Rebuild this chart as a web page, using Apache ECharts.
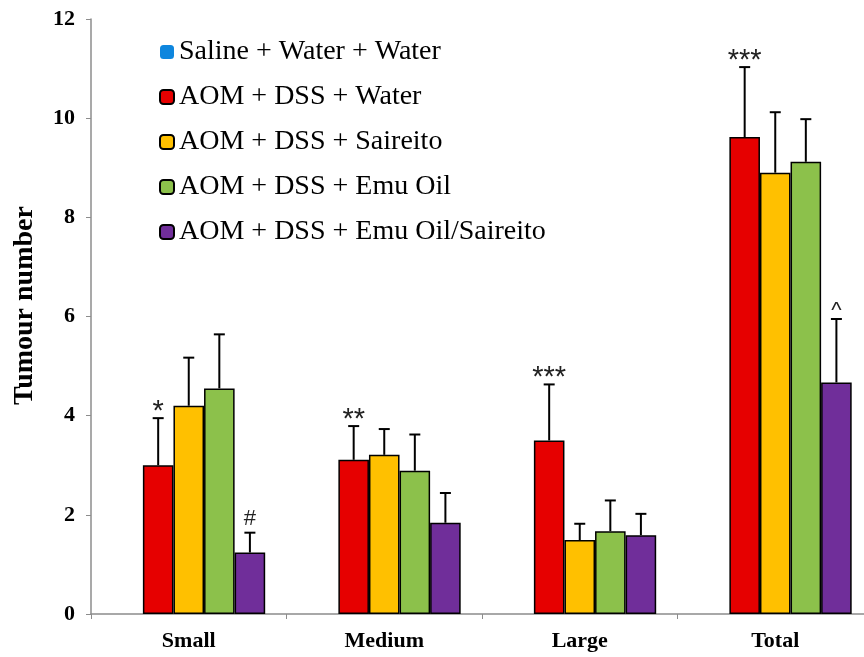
<!DOCTYPE html>
<html>
<head>
<meta charset="utf-8">
<script src="https://cdn.jsdelivr.net/npm/echarts@6/dist/echarts.min.js"></script>
<style>html,body{margin:0;padding:0;background:#fff}#c{width:864px;height:657px}</style>
</head>
<body>
<div id="c"></div>
<script>
var categories = ['Small', 'Medium', 'Large', 'Total'];
var seriesNames = ['Saline + Water + Water', 'AOM + DSS + Water', 'AOM + DSS + Saireito', 'AOM + DSS + Emu Oil', 'AOM + DSS + Emu Oil/Saireito'];
var salineMean = [0, 0, 0, 0];
var waterMean = [3.00, 3.11, 3.50, 9.62];
var saireitoMean = [4.20, 3.21, 1.49, 8.90];
var emuMean = [4.55, 2.89, 1.67, 9.12];
var emuSaireitoMean = [1.24, 1.84, 1.59, 4.67];
var waterErr = [0.95, 0.68, 1.13, 1.41];
var saireitoErr = [0.97, 0.52, 0.33, 1.22];
var emuErr = [1.09, 0.73, 0.62, 0.86];
var emuSaireitoErr = [0.40, 0.60, 0.43, 1.28];
var waterMarks = ['*', '**', '***', '***'];
var saireitoMarks = ['', '', '', ''];
var emuMarks = ['', '', '', ''];
var emuSaireitoMarks = ['#', '', '', '^'];
var yTicks = [0, 2, 4, 6, 8, 10, 12];

var colors = ['#0E86DE', '#E60000', '#FFC000', '#8CC14B', '#702E9A'];
var means = [salineMean, waterMean, saireitoMean, emuMean, emuSaireitoMean];
var errs = [null, waterErr, saireitoErr, emuErr, emuSaireitoErr];
var marks = [null, waterMarks, saireitoMarks, emuMarks, emuSaireitoMarks];
var CAT_GAP = 0.218;
var NS = seriesNames.length;

var errData = [];
var errMarks = [];
for (var s = 1; s < NS; s++) {
  for (var c = 0; c < categories.length; c++) {
    errData.push([c, s, means[s][c], errs[s][c]]);
    errMarks.push(marks[s][c]);
  }
}

var series = [];
for (var i = 0; i < NS; i++) {
  series.push({
    name: seriesNames[i],
    type: 'bar',
    data: means[i],
    barGap: 0,
    barCategoryGap: (CAT_GAP * 100) + '%',
    itemStyle: {
      color: colors[i],
      borderColor: i === 0 ? 'transparent' : '#000',
      borderWidth: i === 0 ? 0 : 1.5
    }
  });
}
series.push({
  type: 'custom',
  data: errData,
  z: 10,
  silent: true,
  clip: false,
  encode: { x: 0, y: 2 },
  renderItem: function (params, api) {
    var ci = api.value(0), si = api.value(1), m = api.value(2), sd = api.value(3);
    var band = api.size([1, 0])[0];
    var bw = band * (1 - CAT_GAP) / NS;
    var cx = api.coord([ci, 0])[0] + (si - (NS - 1) / 2) * bw;
    var y0 = api.coord([ci, m])[1];
    var y1 = api.coord([ci, m + sd])[1];
    var st = { stroke: '#000', lineWidth: 2 };
    var children = [
      { type: 'line', shape: { x1: cx, y1: y0, x2: cx, y2: y1 }, style: st },
      { type: 'line', shape: { x1: cx - 5.5, y1: y1, x2: cx + 5.5, y2: y1 }, style: st }
    ];
    var mk = errMarks[params.dataIndex];
    if (mk) {
      var isStar = mk.charAt(0) === '*';
      children.push({
        type: 'text',
        style: {
          text: mk,
          x: cx,
          y: isStar ? y1 - 6 : (mk === '^' ? y1 - 8 : y1 - 14),
          align: 'center',
          verticalAlign: 'middle',
          fill: '#222',
          font: isStar ? '29px "Liberation Sans", Arial, sans-serif' : '22px "Liberation Sans", Arial, sans-serif'
        }
      });
    }
    return { type: 'group', children: children };
  }
});

var chart = echarts.init(document.getElementById('c'), null, { renderer: 'canvas' });
chart.setOption({
  animation: false,
  backgroundColor: '#fff',
  grid: { left: 91, top: 19, width: 782, height: 595, containLabel: false, outerBoundsMode: 'none' },
  legend: {
    data: seriesNames,
    orient: 'vertical',
    left: 159,
    top: 38,
    padding: 0,
    itemWidth: 14,
    itemHeight: 14,
    itemGap: 17,
    selectedMode: false,
    textStyle: { fontFamily: '"Liberation Serif", "Times New Roman", serif', fontSize: 28, color: '#000' }
  },
  xAxis: {
    type: 'category',
    data: categories,
    axisLine: { lineStyle: { color: '#8c8c8c', width: 1.5 } },
    axisTick: { show: true, alignWithLabel: false, length: 5, lineStyle: { color: '#8c8c8c' } },
    axisLabel: { margin: 16, color: '#000', fontFamily: '"Liberation Serif", "Times New Roman", serif', fontWeight: 'bold', fontSize: 22 },
    splitLine: { show: false }
  },
  yAxis: {
    type: 'value',
    min: yTicks[0],
    max: yTicks[yTicks.length - 1],
    interval: yTicks[1] - yTicks[0],
    name: 'Tumour number',
    nameLocation: 'middle',
    nameGap: 52,
    nameTextStyle: { fontFamily: '"Liberation Serif", "Times New Roman", serif', fontWeight: 'bold', fontSize: 28, color: '#000', padding: [0, 0, 0, 22] },
    axisLine: { show: true, lineStyle: { color: '#8c8c8c', width: 1.5 } },
    axisTick: { show: true, length: 5, lineStyle: { color: '#8c8c8c' } },
    axisLabel: { margin: 16, color: '#000', fontFamily: '"Liberation Serif", "Times New Roman", serif', fontWeight: 'bold', fontSize: 22 },
    splitLine: { show: false }
  },
  series: series
});
</script>
</body>
</html>
